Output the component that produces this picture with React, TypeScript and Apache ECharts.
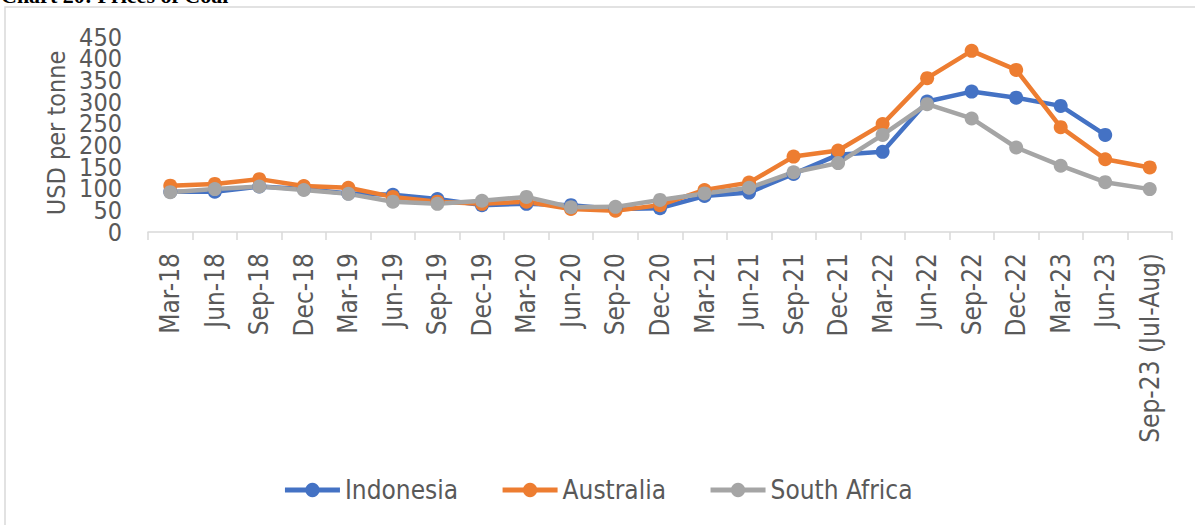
import React, { useEffect, useRef } from "react";
import * as echarts from "echarts";

const categories = [
  "Mar-18", "Jun-18", "Sep-18", "Dec-18", "Mar-19", "Jun-19", "Sep-19", "Dec-19",
  "Mar-20", "Jun-20", "Sep-20", "Dec-20", "Mar-21", "Jun-21", "Sep-21", "Dec-21",
  "Mar-22", "Jun-22", "Sep-22", "Dec-22", "Mar-23", "Jun-23", "Sep-23 (Jul-Aug)",
];

const yTickLabels = ["0", "50", "100", "150", "200", "250", "300", "350", "400", "450"];

const indonesia: (number | null)[] = [
  93, 93, 105, 99, 89, 86, 76, 62, 65, 62, 53, 55, 83, 91, 134, 178,
  185, 301, 324, 310, 291, 224, null,
];
const australia: (number | null)[] = [
  107, 111, 122, 106, 102, 81, 70, 65, 70, 53, 49, 62, 97, 114, 174, 188,
  249, 355, 418, 374, 242, 168, 149,
];
const southAfrica: (number | null)[] = [
  92, 99, 105, 97, 88, 70, 65, 72, 81, 57, 58, 74, 89, 102, 138, 159,
  224, 295, 262, 195, 153, 115, 99,
];

const FONT = "'DejaVu Sans Condensed', 'DejaVu Sans', sans-serif";
const TXT = "#595959";

export default function App() {
  const ref = useRef<HTMLDivElement>(null);
  useEffect(() => {
    if (!ref.current) return;
    const chart = echarts.init(ref.current, undefined, { renderer: "svg" });
    const mk = (name: string, data: (number | null)[], color: string) => ({
      name,
      type: "line",
      data,
      yAxisIndex: 0,
      symbol: "circle",
      symbolSize: 14,
      lineStyle: { width: 4.5, color },
      itemStyle: { color },
      connectNulls: false,
    });
    chart.setOption({
      animation: false,
      backgroundColor: "#ffffff",
      textStyle: { fontFamily: FONT },
      graphic: [
        {
          type: "rect",
          shape: { x: 5, y: 7, width: 1200, height: 530 },
          style: { fill: "none", stroke: "#d9d9d9", lineWidth: 1.5 },
          silent: true,
        },
        {
          type: "text",
          x: 1,
          y: 6,
          style: {
            text: "Chart 20: Prices of Coal",
            font: "bold 22px 'Liberation Serif', serif",
            fill: "#000",
            verticalAlign: "bottom",
          },
        },
        {
          type: "text",
          x: 56,
          y: 133,
          rotation: Math.PI / 2,
          style: {
            text: "USD per tonne",
            font: `25px ${FONT}`,
            fill: TXT,
            align: "center",
            verticalAlign: "middle",
          },
        },
      ],
      legend: {
        bottom: 17,
        left: "center",
        itemWidth: 55,
        itemHeight: 18,
        itemGap: 42,
        lineStyle: { width: 5 },
        textStyle: { fontSize: 26, color: TXT, fontFamily: FONT },
        data: ["Indonesia", "Australia", "South Africa"],
      },
      grid: { left: 148, right: 23, top: 37, bottom: 293, containLabel: false },
      xAxis: {
        type: "category",
        data: categories,
        boundaryGap: true,
        axisLine: { lineStyle: { color: "#d9d9d9", width: 1.5 } },
        axisTick: { show: true, interval: 0, length: 8, lineStyle: { color: "#d9d9d9", width: 1.5 } },
        axisLabel: {
          interval: 0,
          rotate: 90,
          margin: 21,
          fontSize: 26,
          color: TXT,
          fontFamily: FONT,
        },
        splitLine: { show: false },
      },
      yAxis: [
        {
          type: "value",
          min: 0,
          max: 450,
          interval: 50,
          axisLine: { show: false },
          axisTick: { show: false },
          splitLine: { show: false },
          axisLabel: { show: false },
        },
        {
          type: "category",
          data: yTickLabels,
          boundaryGap: false,
          position: "left",
          axisLine: { show: false },
          axisTick: { show: false },
          splitLine: { show: false },
          axisLabel: {
            interval: 0,
            fontSize: 25,
            color: TXT,
            margin: 26,
            fontFamily: FONT,
          },
        },
      ],
      series: [
        mk("Indonesia", indonesia, "#4472C4"),
        mk("Australia", australia, "#ED7D31"),
        mk("South Africa", southAfrica, "#A5A5A5"),
      ],
    });
    return () => chart.dispose();
  }, []);
  return (
    <div
      ref={ref}
      style={{ position: "absolute", left: 0, top: 0, width: 1195, height: 525 }}
    />
  );
}
